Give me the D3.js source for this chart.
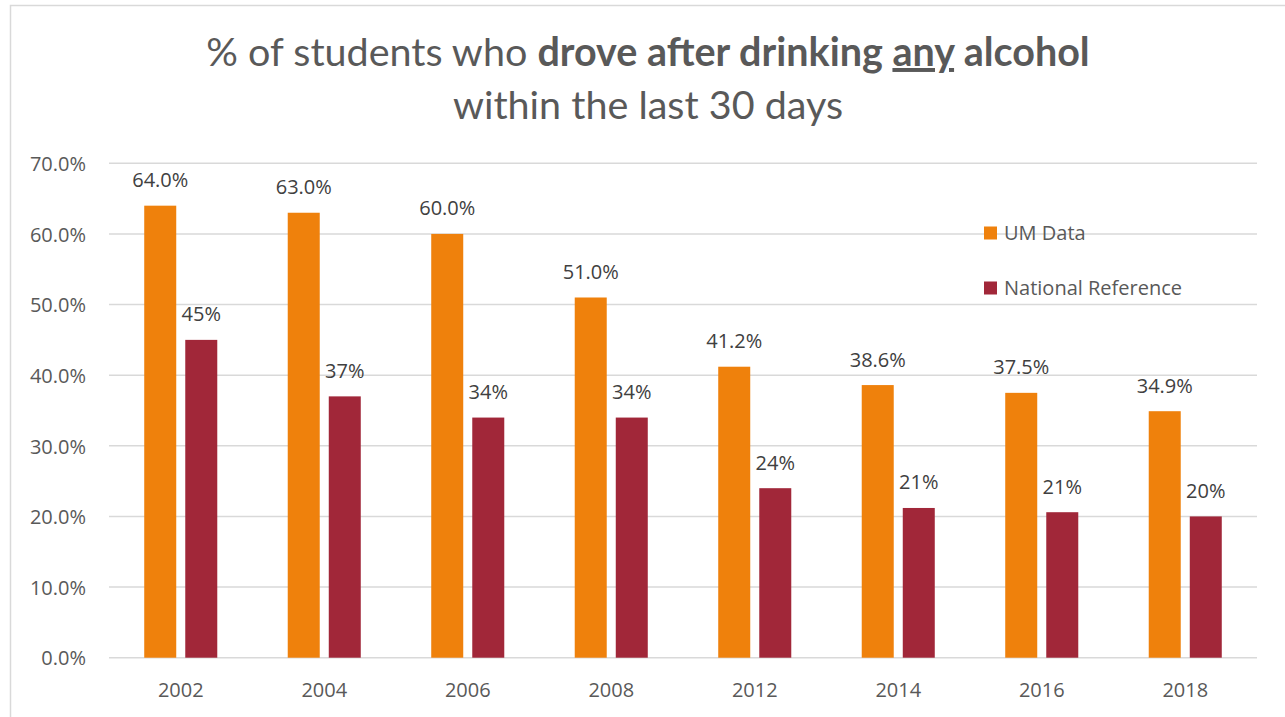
<!DOCTYPE html>
<html>
<head>
<meta charset="utf-8">
<script src="https://cdn.jsdelivr.net/npm/d3@7"></script>
<style>
  html, body { margin: 0; padding: 0; background: #fff; }
  svg { display: block; }
</style>
</head>
<body>
<svg id="chart" width="1285" height="717"></svg>
<script>
// Survey years and the two series, in percent
const years = ["2002", "2004", "2006", "2008", "2012", "2014", "2016", "2018"];
const umData = [64.0, 63.0, 60.0, 51.0, 41.2, 38.6, 37.5, 34.9];
const nationalRef = [45, 37, 34, 34, 24, 21.2, 20.6, 20];
const seriesNames = ["UM Data", "National Reference"];
const yTicks = [0, 10, 20, 30, 40, 50, 60, 70];

const colors = { "UM Data": "#EF810C", "National Reference": "#A12739" };
const labelFormats = { "UM Data": d3.format(".1f"), "National Reference": d3.format(".0f") };

const svg = d3.select("#chart");
const W = 1285, H = 717;
const plot = { left: 109, right: 1257, top: 163.3, bottom: 657.7 };
const FONT = "'Open Sans', sans-serif";
const FS = 20;

// Outer chart frame
svg.append("rect")
  .attr("x", 10.5).attr("y", 5.5)
  .attr("width", W + 20).attr("height", H + 20)
  .attr("fill", "#fff").attr("stroke", "#D9D9D9").attr("stroke-width", 1.5);

const rows = years.map((yr, i) => ({
  year: yr,
  values: [
    { key: "UM Data", value: umData[i] },
    { key: "National Reference", value: nationalRef[i] }
  ]
}));

const x0 = d3.scaleBand().domain(years)
  .range([plot.left, plot.right])
  .paddingInner(0.491).paddingOuter(0.2455);
const x1 = d3.scaleBand().domain(seriesNames)
  .range([0, x0.bandwidth()]).paddingInner(0.22);
const y = d3.scaleLinear().domain([0, 70]).range([plot.bottom, plot.top]);

// Horizontal gridlines
svg.append("g").selectAll("line").data(yTicks).join("line")
  .attr("x1", plot.left).attr("x2", plot.right)
  .attr("y1", d => y(d)).attr("y2", d => y(d))
  .attr("stroke", "#D9D9D9").attr("stroke-width", 1.4);

// Y axis labels
const yAxis = d3.axisLeft(y).tickValues(yTicks)
  .tickFormat(d => d3.format(".1f")(d) + "%").tickSize(0).tickPadding(0);
const gy = svg.append("g").attr("transform", "translate(86,0)").call(yAxis);
gy.select(".domain").remove();
gy.selectAll("text")
  .attr("font-family", FONT).attr("font-size", FS)
  .attr("fill", "#595959").attr("dy", "0.36em");

// X axis labels
const xAxis = d3.axisBottom(x0).tickSize(0).tickPadding(0);
const gx = svg.append("g").attr("transform", `translate(0,${plot.bottom})`).call(xAxis);
gx.select(".domain").remove();
gx.selectAll("text")
  .attr("font-family", FONT).attr("font-size", FS)
  .attr("fill", "#595959").attr("dy", null).attr("y", 39);

// Bars and value labels
const groups = svg.append("g").selectAll("g").data(rows).join("g")
  .attr("transform", d => `translate(${x0(d.year)},0)`);

groups.selectAll("rect").data(d => d.values).join("rect")
  .attr("x", d => x1(d.key))
  .attr("y", d => y(d.value))
  .attr("width", x1.bandwidth())
  .attr("height", d => y(0) - y(d.value))
  .attr("fill", d => colors[d.key]);

groups.selectAll("text").data(d => d.values).join("text")
  .attr("x", d => x1(d.key) + x1.bandwidth() / 2)
  .attr("y", d => y(d.value) - 18.5)
  .attr("text-anchor", "middle")
  .attr("font-family", FONT).attr("font-size", FS)
  .attr("fill", "#404040")
  .text(d => labelFormats[d.key](d.value) + "%");

// Legend
const legend = svg.append("g").selectAll("g").data(seriesNames).join("g")
  .attr("transform", (d, i) => `translate(984,${226.5 + i * 55})`);
legend.append("rect").attr("width", 13).attr("height", 13)
  .attr("fill", d => colors[d]);
legend.append("text").attr("x", 20).attr("y", 13)
  .attr("font-family", FONT).attr("font-size", FS)
  .attr("fill", "#595959").text(d => d);

// Title
const title = svg.append("text")
  .attr("text-anchor", "middle")
  .attr("font-family", "Lato, sans-serif").attr("font-size", 39.5)
  .attr("fill", "#595959");
const line1 = title.append("tspan").attr("x", 648).attr("y", 66);
line1.append("tspan").text("% of students who ");
line1.append("tspan").attr("font-weight", "bold").text("drove after drinking ");
line1.append("tspan").attr("font-weight", "bold").attr("text-decoration", "underline").text("any");
line1.append("tspan").attr("font-weight", "bold").text(" alcohol");
title.append("tspan").attr("x", 648).attr("y", 119).text("within the last 30 days");
</script>
</body>
</html>
